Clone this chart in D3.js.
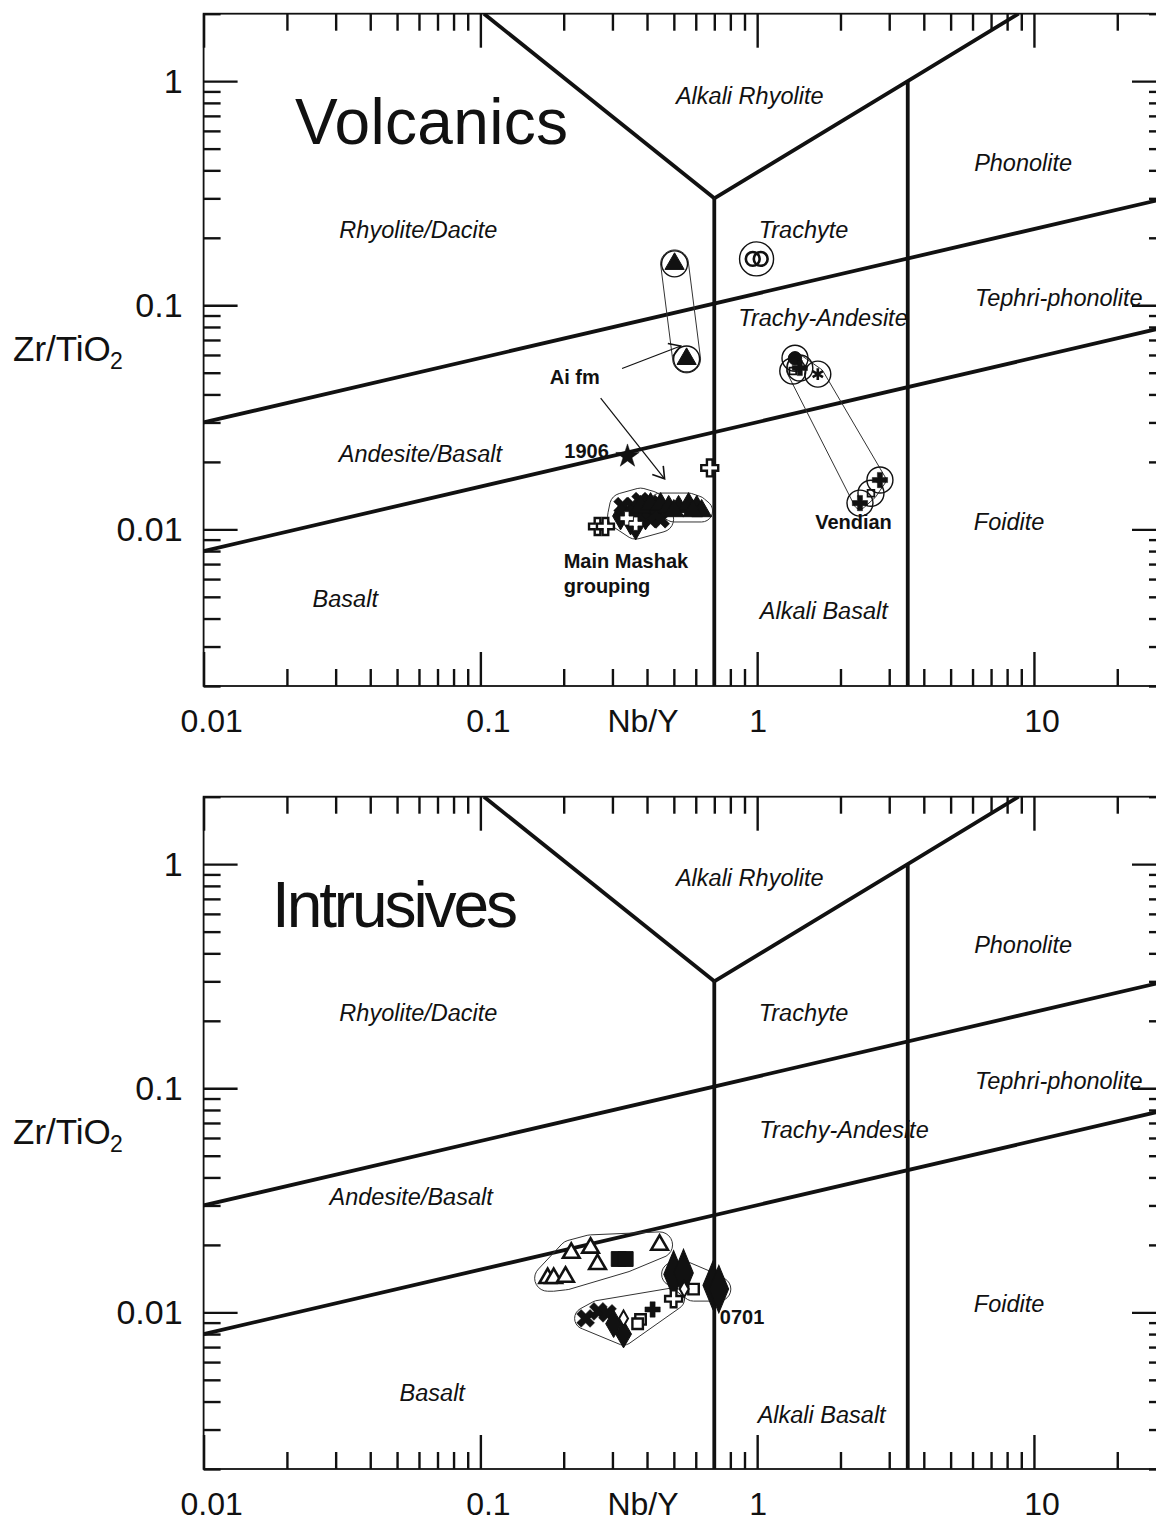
<!DOCTYPE html>
<html>
<head>
<meta charset="utf-8">
<script src="https://cdn.jsdelivr.net/npm/d3@7"></script>
<style>
  body { margin: 0; background: #fff; }
  svg { display: block; }
  text { font-family: "Liberation Sans", Arial, Helvetica, sans-serif; fill: #111; }
</style>
</head>
<body>
<svg id="chart" width="1156" height="1521"></svg>
<script>
// ---------- axes ----------
const xDomain = [0.01, 30];          // Nb/Y
const yDomain = [0.002, 2];          // Zr/TiO2
const xMajorTicks = [0.01, 0.1, 1, 10];
const xTickLabels = ["0.01", "0.1", "1", "10"];
const yMajorTicks = [0.01, 0.1, 1];
const yTickLabels = ["0.01", "0.1", "1"];

// ---------- Winchester & Floyd field boundaries (Nb/Y, Zr/TiO2) ----------
const boundaryUpper  = [[0.01, 0.03], [30, 0.3]];
const boundaryLower  = [[0.01, 0.008], [30, 0.08]];
const boundaryVLeft  = [[0.103, 2], [0.7, 0.3]];
const boundaryVRight = [[0.7, 0.3], [3.5, 1], [8.8, 2]];
const boundaryNb07   = [[0.7, 0.3], [0.7, 0.002]];
const boundaryNb35   = [[3.5, 1], [3.5, 0.002]];

// ---------- field names ----------
const fieldNames = ["Alkali Rhyolite", "Phonolite", "Rhyolite/Dacite", "Trachyte",
  "Tephri-phonolite", "Trachy-Andesite", "Andesite/Basalt", "Foidite", "Basalt", "Alkali Basalt"];
const volcFieldAt = [[0.94, 0.86], [9.14, 0.432], [0.0597, 0.217], [1.47, 0.217],
  [12.3, 0.108], [1.73, 0.0878], [0.0607, 0.0217], [8.13, 0.0108], [0.0325, 0.00489], [1.74, 0.00432]];
const intrFieldAt = [[0.94, 0.869], [9.14, 0.436], [0.0597, 0.217], [1.47, 0.217],
  [12.3, 0.108], [2.06, 0.065], [0.0562, 0.0327], [8.13, 0.0109], [0.067, 0.00437], [1.71, 0.00348]];

// ---------- volcanic samples (Nb/Y, Zr/TiO2) ----------
const aiFmTriangles      = [[0.503, 0.153], [0.556, 0.0576]];
const trachyteCircles    = [[0.964, 0.161], [1.03, 0.161]];
const taFilledCircle     = [[1.37, 0.058]];
const taOpenSquare       = [[1.345, 0.0509]];
const taPlus             = [[1.426, 0.0525]];
const taAsterisk         = [[1.656, 0.0493]];
const vendianPlus        = [[2.777, 0.0166], [2.352, 0.0131]];
const vendianSquare      = [[2.577, 0.0145]];
const sample1906         = [[0.340, 0.0212]];
const volcOpenCross      = [[0.674, 0.0188], [0.265, 0.0103], [0.283, 0.0103]];
const mashakTrianglesW   = [[0.379, 0.0126], [0.412, 0.01297]];
const mashakTrianglesE   = [[0.448, 0.01297], [0.479, 0.0126], [0.520, 0.0126], [0.565, 0.01297], [0.605, 0.0126], [0.630, 0.01208], [0.500, 0.01208], [0.585, 0.01208]];
const mashakFilledX      = [[0.3265, 0.0127], [0.335, 0.01184], [0.355, 0.0127], [0.364, 0.01184], [0.373, 0.01146],
                            [0.379, 0.01337], [0.395, 0.01208], [0.412, 0.0111], [0.412, 0.01297], [0.430, 0.0117], [0.448, 0.0111]];
const mashakDiamonds     = [[0.321, 0.01146], [0.349, 0.01088], [0.364, 0.01034], [0.395, 0.01146], [0.430, 0.01208]];
const mashakOpenCross    = [[0.338, 0.01120], [0.364, 0.01060]];
const volcRings          = [[0.503, 0.153], [0.556, 0.0576], [1.37, 0.058], [1.345, 0.0509], [1.426, 0.0525],
                            [1.656, 0.0493], [2.777, 0.0166], [2.577, 0.0145], [2.352, 0.0131]];
const volcBigRing        = [[0.995, 0.161]];

// ---------- intrusive samples (Nb/Y, Zr/TiO2) ----------
const intrOpenTriangles  = [[0.213, 0.0184], [0.250, 0.0194], [0.265, 0.0164], [0.175, 0.0142], [0.184, 0.0142], [0.203, 0.0144], [0.444, 0.0200]];
const intrFilledSquares  = [[0.316, 0.0173], [0.335, 0.0173]];
const intrDrops          = [[0.499, 0.0148], [0.542, 0.0150], [0.691, 0.0132], [0.727, 0.0127]];
const intrOpenSquares    = [[0.589, 0.0127], [0.379, 0.0093], [0.370, 0.0089]];
const intrOpenCross      = [[0.499, 0.0115]];
const intrSmallOpenDiam  = [[0.545, 0.0127], [0.329, 0.0094]];
const intrFilledCross    = [[0.419, 0.0103]];
const intrFilledX        = [[0.240, 0.0094], [0.267, 0.0101], [0.288, 0.0099]];
const intrFilledDiamonds = [[0.303, 0.0089], [0.329, 0.0080]];

// ---------- annotations ----------
const volcNotes = [
  { text: "Ai fm", at: [0.178, 0.0478] },
  { text: "1906", at: [0.201, 0.0224] },
  { text: "Main Mashak", at: [0.200, 0.00723] },
  { text: "grouping", at: [0.200, 0.00559] },
  { text: "Vendian", at: [1.62, 0.0108] }
];
const volcArrows = [
  [[0.325, 0.0522], [0.529, 0.0658]],
  [[0.272, 0.0385], [0.463, 0.0168]]
];
const intrNotes = [{ text: "0701", at: [0.733, 0.00953] }];

// ---------- layout ----------
const svg = d3.select("#chart");
const plotLeft = 203.6, plotRight = 1166;
const panelTops = [13.7, 796.7];
const panelHeight = 672.3;

const defs = svg.append("defs");
defs.append("marker")
  .attr("id", "arrowhead")
  .attr("viewBox", "-12 -8 14 16")
  .attr("markerWidth", 14).attr("markerHeight", 16)
  .attr("markerUnits", "userSpaceOnUse")
  .attr("orient", "auto")
  .append("path")
  .attr("d", "M-11,-7 L0,0 L-11,7")
  .attr("fill", "none").attr("stroke", "#111").attr("stroke-width", 1.6);

function drawPanel(index, spec) {
  const top = panelTops[index];
  const bottom = top + panelHeight;
  const x = d3.scaleLog().domain(xDomain).range([plotLeft, plotRight]);
  const y = d3.scaleLog().domain(yDomain).range([bottom, top]);
  const g = svg.append("g");

  const clipId = "clip" + index;
  defs.append("clipPath").attr("id", clipId)
    .append("rect").attr("x", plotLeft).attr("y", top)
    .attr("width", plotRight - plotLeft).attr("height", bottom - top);

  // frame
  g.append("rect")
    .attr("x", plotLeft).attr("y", top)
    .attr("width", plotRight - plotLeft).attr("height", bottom - top)
    .attr("fill", "none").attr("stroke", "#111").attr("stroke-width", 1.8);

  // inward ticks on all four sides
  const xMinor = x.ticks().filter(v => !xMajorTicks.some(m => Math.abs(m - v) / m < 1e-6));
  const yMinor = y.ticks().filter(v => !yMajorTicks.some(m => Math.abs(m - v) / m < 1e-6));
  const tickSets = [
    [d3.axisBottom(x), `translate(0,${bottom})`, xMinor, xMajorTicks],
    [d3.axisTop(x), `translate(0,${top})`, xMinor, xMajorTicks],
    [d3.axisLeft(y), `translate(${plotLeft},0)`, yMinor, yMajorTicks],
    [d3.axisRight(y), `translate(${plotRight},0)`, yMinor, yMajorTicks]
  ];
  tickSets.forEach(([axis, tr, minor, major]) => {
    [[minor, -17], [major, -34]].forEach(([vals, size]) => {
      g.append("g").attr("transform", tr)
        .call(axis.tickValues(vals).tickSize(size).tickSizeOuter(0).tickFormat(""))
        .call(s => s.select(".domain").remove())
        .call(s => s.selectAll(".tick line").attr("stroke", "#111").attr("stroke-width", 2.4));
    });
  });

  // tick labels (multi-digit labels sit slightly right of their tick)
  g.selectAll(null).data(xMajorTicks).enter().append("text")
    .attr("x", (d, i) => x(d) + (xTickLabels[i].length > 1 ? 8 : 1))
    .attr("y", bottom + 46)
    .attr("text-anchor", "middle").attr("font-size", 32)
    .text((d, i) => xTickLabels[i]);
  g.selectAll(null).data(yMajorTicks).enter().append("text")
    .attr("x", plotLeft - 21).attr("y", d => y(d) + 12)
    .attr("text-anchor", "end").attr("font-size", 34)
    .text((d, i) => yTickLabels[i]);

  // axis titles
  g.append("text").attr("x", 643).attr("y", bottom + 46)
    .attr("text-anchor", "middle").attr("font-size", 32).text("Nb/Y");
  g.append("text").attr("x", 13).attr("y", top + 347).attr("font-size", 35).text("Zr/TiO");
  g.append("text").attr("x", 110).attr("y", top + 355).attr("font-size", 23).text("2");

  // panel title
  g.append("text").attr("x", spec.titleX).attr("y", top + 130)
    .attr("font-size", 64).attr("textLength", spec.titleWidth).attr("lengthAdjust", "spacing")
    .text(spec.title);

  // field boundaries
  const line = d3.line().x(d => x(d[0])).y(d => y(d[1]));
  const bg = g.append("g").attr("clip-path", `url(#${clipId})`);
  [boundaryUpper, boundaryLower, boundaryVLeft, boundaryVRight, boundaryNb07, boundaryNb35].forEach(b => {
    bg.append("path").attr("d", line(b))
      .attr("fill", "none").attr("stroke", "#111").attr("stroke-width", 3.8)
      .attr("stroke-linejoin", "miter");
  });

  // field names
  g.selectAll(null).data(spec.fieldAt).enter().append("text")
    .attr("x", d => x(d[0])).attr("y", d => y(d[1]) + 8)
    .attr("text-anchor", "middle").attr("font-size", 23.5).attr("font-style", "italic")
    .text((d, i) => fieldNames[i]);

  // group outlines: padded hulls around member samples
  spec.outlines.forEach(([members, pad]) => {
    const cloud = [];
    members.forEach(([a, b]) => {
      for (let k = 0; k < 24; k++) {
        const t = k / 24 * 2 * Math.PI;
        cloud.push([x(a) + pad * Math.cos(t), y(b) + pad * Math.sin(t)]);
      }
    });
    const hull = d3.polygonHull(cloud);
    g.append("path").attr("d", d3.line().curve(d3.curveLinearClosed)(hull))
      .attr("fill", "none").attr("stroke", "#333").attr("stroke-width", 1);
  });

  // arrows
  (spec.arrows || []).forEach(a => {
    g.append("path").attr("d", line(a))
      .attr("fill", "none").attr("stroke", "#111").attr("stroke-width", 1.2)
      .attr("marker-end", "url(#arrowhead)");
  });

  // samples
  const sym = (type, size) => d3.symbol().type(type).size(size)();
  const styles = {
    triFilled:   { d: sym(d3.symbolTriangle, 160), fill: "#111", stroke: "#111", sw: 1 },
    triSmall:    { d: sym(d3.symbolTriangle, 170), fill: "#111", stroke: "#111", sw: 1 },
    triOpen:     { d: sym(d3.symbolTriangle, 120), fill: "#fff", stroke: "#111", sw: 2.6 },
    circOpen:    { d: sym(d3.symbolCircle, 150), fill: "none", stroke: "#111", sw: 2.6 },
    circFilled:  { d: sym(d3.symbolCircle, 140), fill: "#111", stroke: "#111", sw: 1 },
    sqOpen:      { d: sym(d3.symbolSquare, 110), fill: "#fff", stroke: "#111", sw: 2.4 },
    sqSmallOpen: { d: sym(d3.symbolSquare, 45), fill: "none", stroke: "#111", sw: 1.8 },
    sqFilled:    { d: sym(d3.symbolSquare, 220), fill: "#111", stroke: "#111", sw: 1 },
    plus:        { d: sym(d3.symbolCross, 130), fill: "#111", stroke: "#111", sw: 0.5 },
    plusOpen:    { d: sym(d3.symbolCross, 160), fill: "#fff", stroke: "#111", sw: 2.4 },
    plusOpenSm:  { d: sym(d3.symbolCross, 100), fill: "#fff", stroke: "#111", sw: 0.8 },
    xFilled:     { d: sym(d3.symbolCross, 200), fill: "#111", stroke: "#111", sw: 0.5, rot: 45 },
    star:        { d: sym(d3.symbolStar, 170), fill: "#111", stroke: "#111", sw: 0.5 },
    asterisk:    { d: sym(d3.symbolAsterisk, 100), fill: "none", stroke: "#111", sw: 2.6 },
    diamond:     { d: sym(d3.symbolDiamond, 220), fill: "#111", stroke: "#111", sw: 1 },
    diamondOpen: { d: sym(d3.symbolDiamond, 70), fill: "#fff", stroke: "#111", sw: 2 },
    drop:        { d: sym(d3.symbolDiamond, 330), fill: "#111", stroke: "#111", sw: 1, sy: 1.4 }
  };
  spec.samples.forEach(([pts, key]) => {
    const st = styles[key];
    g.selectAll(null).data(pts).enter().append("path")
      .attr("d", st.d)
      .attr("transform", d => `translate(${x(d[0])},${y(d[1])})` + (st.rot ? ` rotate(${st.rot})` : "") + (st.sy ? ` scale(1,${st.sy})` : ""))
      .attr("fill", st.fill).attr("stroke", st.stroke).attr("stroke-width", st.sw)
      .attr("stroke-linejoin", "miter");
  });

  // rings around selected samples
  [[spec.rings || [], 13], [spec.bigRings || [], 17]].forEach(([pts, r]) => {
    g.selectAll(null).data(pts).enter().append("circle")
      .attr("cx", d => x(d[0])).attr("cy", d => y(d[1])).attr("r", r)
      .attr("fill", "none").attr("stroke", "#111").attr("stroke-width", 1.4);
  });

  // bold annotations
  g.selectAll(null).data(spec.notes).enter().append("text")
    .attr("x", d => x(d.at[0])).attr("y", d => y(d.at[1]) + 7)
    .attr("font-size", 20).attr("font-weight", "bold")
    .text(d => d.text);
}

drawPanel(0, {
  title: "Volcanics", titleX: 295, titleWidth: 273,
  fieldAt: volcFieldAt,
  outlines: [
    [aiFmTriangles, 14],
    [taFilledCircle.concat(taOpenSquare, taAsterisk, vendianPlus, vendianSquare), 6],
    [mashakFilledX.concat(mashakDiamonds, mashakOpenCross, mashakTrianglesW), 13],
    [mashakTrianglesE, 11]
  ],
  arrows: volcArrows,
  samples: [
    [aiFmTriangles, "triFilled"],
    [trachyteCircles, "circOpen"],
    [taFilledCircle, "circFilled"],
    [taOpenSquare, "sqSmallOpen"],
    [taPlus, "plus"],
    [taAsterisk, "asterisk"],
    [vendianSquare, "sqSmallOpen"],
    [vendianPlus, "plus"],
    [sample1906, "star"],
    [volcOpenCross, "plusOpen"],
    [mashakDiamonds, "diamond"],
    [mashakFilledX, "xFilled"],
    [mashakTrianglesW, "triSmall"],
    [mashakTrianglesE, "triSmall"],
    [mashakOpenCross, "plusOpenSm"]
  ],
  rings: volcRings,
  bigRings: volcBigRing,
  notes: volcNotes
});

drawPanel(1, {
  title: "Intrusives", titleX: 272, titleWidth: 246,
  fieldAt: intrFieldAt,
  outlines: [
    [intrOpenTriangles.concat(intrFilledSquares), 13],
    [intrDrops.concat([intrOpenSquares[0]]), 12],
    [intrFilledX.concat(intrFilledDiamonds, intrOpenCross, intrFilledCross, [intrOpenSquares[1], intrOpenSquares[2]]), 11]
  ],
  samples: [
    [intrOpenTriangles, "triOpen"],
    [intrFilledSquares, "sqFilled"],
    [intrDrops, "drop"],
    [intrOpenSquares, "sqOpen"],
    [intrOpenCross, "plusOpen"],
    [intrFilledCross, "plus"],
    [intrFilledX, "xFilled"],
    [intrFilledDiamonds, "diamond"],
    [intrSmallOpenDiam, "diamondOpen"]
  ],
  notes: intrNotes
});
</script>
</body>
</html>
